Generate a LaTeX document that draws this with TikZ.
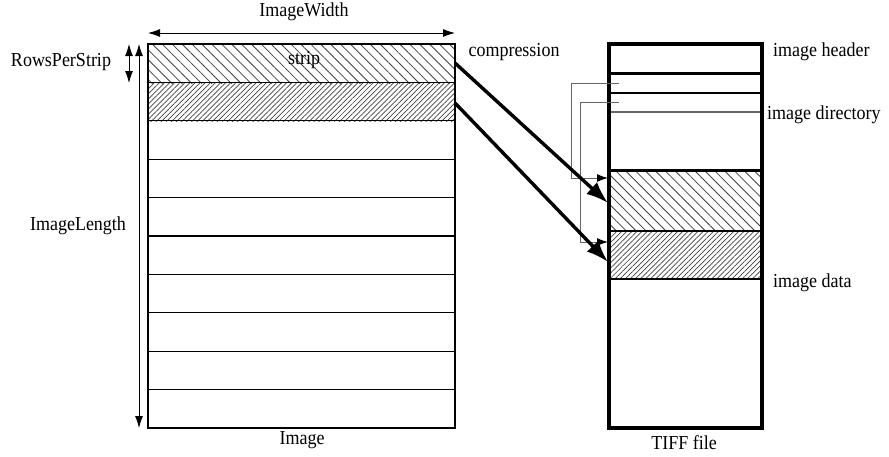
\documentclass[tikz,border=0pt]{standalone}
\usepackage{fontspec}
\setmainfont{Liberation Serif}
\usetikzlibrary{arrows.meta,patterns.meta}
\newcommand{\tallt}[1]{\scalebox{1}[1.1]{#1}}
\begin{document}
\begin{tikzpicture}[x=1pt,y=-1pt,
  lbl/.style={font=\fontsize{18}{19}\selectfont, inner sep=0pt},
  thin box/.style={draw=black, line width=1.3pt},
  hatchA/.style={pattern={Lines[angle=-45,distance=7pt,line width=0.8pt]}, pattern color=black!75},
  hatchB/.style={pattern={Lines[angle=45,distance=3.6pt,line width=0.7pt]}, pattern color=black!75},
  dim/.style={line width=0.9pt, {Latex[length=12pt,width=8pt]}-{Latex[length=12pt,width=8pt]}},
  bigarrow/.style={line width=3.4pt, -{Latex[length=22pt,width=16pt]}},
  ptr/.style={draw=black!60, line width=1pt, -{Latex[length=11pt,width=8pt,fill=black,color=black]}}]
\useasboundingbox (0,0) rectangle (889,456);
% ---------- Image ----------
\fill[hatchA] (148,44) rectangle (455,83);
\fill[hatchB] (148,83) rectangle (455,121);
\foreach \i in {1,...,9} {
  \draw[line width=1.1pt] (148,{44+38.4*\i}) -- (455,{44+38.4*\i});
}
\draw[thin box] (148,44) rectangle (455,428);
\coordinate (s1) at (455,63);
\coordinate (s2) at (455,103);
% dimension arrows
\coordinate (wL) at (148,33); \coordinate (wR) at (455,33);
\draw[dim] (wL) -- (wR);
\coordinate (rT) at (129,44); \coordinate (rB) at (129,83);
\draw[dim] (rT) -- (rB);
\coordinate (lT) at (139,44); \coordinate (lB) at (139,428);
\draw[dim] (lT) -- (lB);
% labels
\node[lbl] (tw) at (304,12) {\tallt{ImageWidth}};
\node[lbl] (trps) at (61,62) {\tallt{RowsPerStrip}};
\node[lbl] (tl) at (78,226) {\tallt{ImageLength}};
\node[lbl] (tstrip) at (304,60) {\tallt{strip}};
\node[lbl] (tcomp) at (514,52) {\tallt{compression}};
\node[lbl] (timg) at (302,440) {\tallt{Image}};
% ---------- TIFF file ----------
\fill[hatchA] (609,170) rectangle (762,231);
\fill[hatchB] (609,231) rectangle (762,279);
\draw[line width=3pt] (609,73) -- (762,73);
\draw[line width=1.5pt] (609,93) -- (762,93);
\draw[line width=1.5pt, black!60] (609,112) -- (762,112);
\draw[line width=3pt] (609,170) -- (762,170);
\draw[line width=2pt] (609,231) -- (762,231);
\draw[line width=2.5pt] (609,279) -- (762,279);
\draw[line width=3.5pt] (609,44) rectangle (762,428);
\coordinate (e1) at (619,83);
\coordinate (e2) at (619,102);
\coordinate (d1) at (608,178);
\coordinate (d2) at (608,242);
\coordinate (a1) at (608,203);
\coordinate (a2) at (608,262);
\draw[ptr] (e1) -- (571,83) -- (571,178) -- (d1);
\draw[ptr] (e2) -- (580,102) -- (580,242) -- (d2);
\draw[bigarrow] (s1) -- (a1);
\draw[bigarrow] (s2) -- (a2);
\node[lbl, anchor=west] (th) at (773,52) {\tallt{image header}};
\node[lbl, anchor=west] (td) at (767,115) {\tallt{image directory}};
\node[lbl, anchor=west] (tdata) at (773,283) {\tallt{image data}};
\node[lbl] (ttiff) at (684,443) {\tallt{TIFF file}};
\end{tikzpicture}
\end{document}
